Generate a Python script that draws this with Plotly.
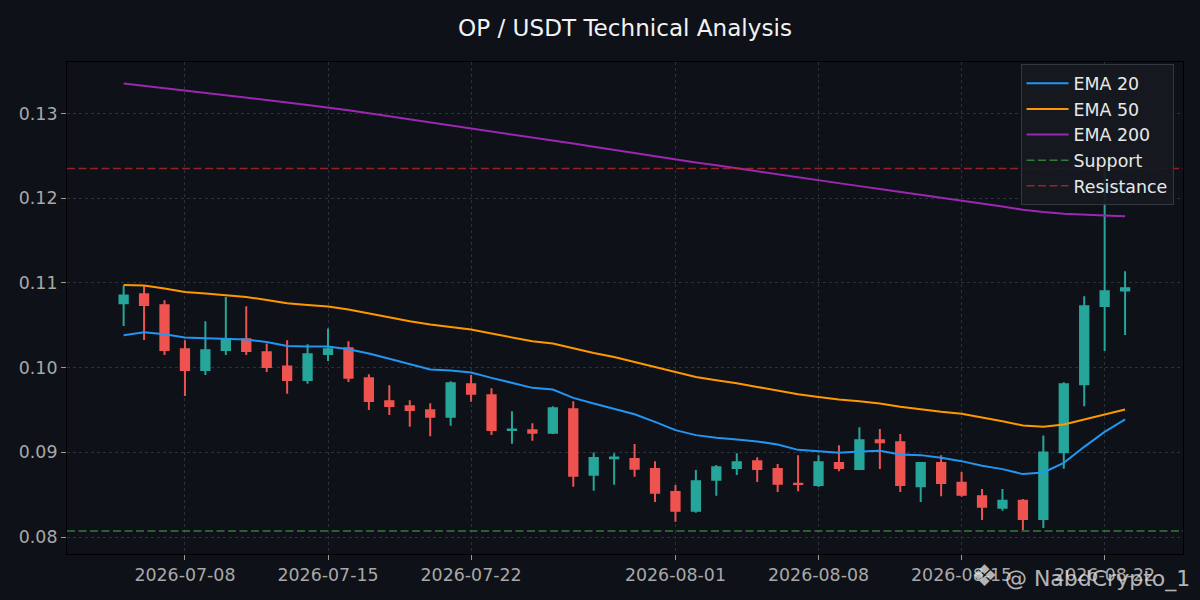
import plotly.graph_objects as go
import pandas as pd

dates = pd.date_range("2026-07-05", "2026-08-23", freq="D").strftime("%Y-%m-%d").tolist()

opens = [0.1076, 0.10866, 0.10736, 0.10217, 0.09973, 0.10209, 0.10335, 0.10182, 0.10013, 0.09855,
         0.10162, 0.10229, 0.09875, 0.09604, 0.09545, 0.09498, 0.09419, 0.09804, 0.09675, 0.09265,
         0.09262, 0.0923, 0.09509, 0.08735, 0.0893, 0.0892, 0.08802, 0.08531, 0.0831, 0.08676,
         0.08814, 0.08896, 0.08802, 0.0863, 0.08613, 0.08873, 0.08802, 0.09144, 0.0912, 0.08601,
         0.08873, 0.0864, 0.08483, 0.08346, 0.08428, 0.08212, 0.09002, 0.09804, 0.10728, 0.10909]
highs = [0.1097, 0.1097, 0.10795, 0.10323, 0.10547, 0.10834, 0.10724, 0.10284, 0.10323, 0.10276,
         0.10461, 0.10311, 0.09922, 0.09792, 0.09616, 0.0958, 0.0984, 0.09914, 0.09757, 0.09486,
         0.09344, 0.09545, 0.09604, 0.08999, 0.0899, 0.09097, 0.08896, 0.08613, 0.0879, 0.08849,
         0.0899, 0.08943, 0.08861, 0.08967, 0.08967, 0.09085, 0.09297, 0.09274, 0.09215, 0.08884,
         0.08967, 0.08767, 0.08566, 0.08566, 0.08448, 0.09199, 0.09828, 0.10842, 0.12348, 0.11137]
lows = [0.10492, 0.10327, 0.1015, 0.09666, 0.09914, 0.1015, 0.1015, 0.09949, 0.0969, 0.09808,
        0.10079, 0.09831, 0.09501, 0.09442, 0.09301, 0.09191, 0.09313, 0.09596, 0.09206, 0.091,
        0.09136, 0.09215, 0.08593, 0.08546, 0.08617, 0.08711, 0.08413, 0.0818, 0.08287, 0.08487,
        0.08731, 0.08649, 0.08531, 0.08542, 0.0859, 0.08778, 0.0879, 0.08802, 0.08531, 0.08413,
        0.08483, 0.08475, 0.082, 0.0831, 0.08083, 0.08106, 0.08805, 0.09545, 0.10197, 0.10386]
closes = [0.1085, 0.10739, 0.10209, 0.09973, 0.10205, 0.10335, 0.10197, 0.10008, 0.09855, 0.10158,
          0.10217, 0.09879, 0.09607, 0.09548, 0.09501, 0.09419, 0.09816, 0.0969, 0.09265, 0.0927,
          0.0923, 0.09521, 0.08723, 0.08932, 0.0894, 0.08805, 0.08522, 0.0831, 0.0866, 0.08825,
          0.08884, 0.08802, 0.08629, 0.08625, 0.08884, 0.08814, 0.09144, 0.0912, 0.08613, 0.08873,
          0.08637, 0.08499, 0.08357, 0.08428, 0.08212, 0.08999, 0.09804, 0.10724, 0.10901, 0.10936]

ema20 = [0.10382, 0.10417, 0.10394, 0.10355, 0.10347, 0.10343, 0.10331, 0.10303, 0.10256, 0.10249,
         0.10249, 0.10217, 0.10166, 0.10105, 0.10040, 0.09978, 0.09966, 0.09942, 0.09879, 0.09820,
         0.09761, 0.09742, 0.09643, 0.09577, 0.09518, 0.09450, 0.09360, 0.09262, 0.09203, 0.09171,
         0.09152, 0.09129, 0.09093, 0.09029, 0.09014, 0.08994, 0.09011, 0.09018, 0.08975, 0.08967,
         0.08937, 0.08896, 0.08841, 0.08802, 0.08743, 0.08763, 0.08876, 0.09065, 0.09242, 0.09388]
ema50 = [0.10975, 0.10968, 0.10933, 0.10893, 0.10874, 0.10857, 0.10834, 0.10798, 0.10759, 0.10739,
         0.10720, 0.10685, 0.10638, 0.10597, 0.10547, 0.10508, 0.10480, 0.10449, 0.10402, 0.10355,
         0.10311, 0.10284, 0.10225, 0.10173, 0.10126, 0.10067, 0.10008, 0.09946, 0.09890, 0.09851,
         0.09816, 0.09772, 0.09725, 0.09686, 0.09654, 0.09624, 0.09604, 0.09577, 0.09537, 0.09506,
         0.09478, 0.09454, 0.09415, 0.09368, 0.09317, 0.09301, 0.09329, 0.09388, 0.09447, 0.09506]
ema200 = [0.13354, 0.13327, 0.13300, 0.13271, 0.13243, 0.13215, 0.13186, 0.13158, 0.13130, 0.13100,
          0.13071, 0.13037, 0.13001, 0.12966, 0.12930, 0.12895, 0.12860, 0.12823, 0.12788, 0.12752,
          0.12717, 0.12682, 0.12644, 0.12606, 0.12568, 0.12531, 0.12493, 0.12458, 0.12422, 0.12387,
          0.12351, 0.12316, 0.12281, 0.12245, 0.12210, 0.12175, 0.12142, 0.12108, 0.12075, 0.12042,
          0.12009, 0.11974, 0.11939, 0.11901, 0.11864, 0.11836, 0.11817, 0.11803, 0.11794, 0.11785]

support = 0.08071
resistance = 0.12351

x_tickvals = ["2026-07-08", "2026-07-15", "2026-07-22", "2026-08-01", "2026-08-08", "2026-08-15", "2026-08-22"]
y_tickvals = [0.08, 0.09, 0.10, 0.11, 0.12, 0.13]
y_ticktext = ["0.08", "0.09", "0.10", "0.11", "0.12", "0.13"]

BG = "#0e1117"
FONT = "DejaVu Sans"

fig = go.Figure()
fig.add_trace(go.Candlestick(
    x=dates, open=opens, high=highs, low=lows, close=closes,
    increasing=dict(line=dict(color="#26a69a", width=2), fillcolor="#26a69a"),
    decreasing=dict(line=dict(color="#ef5350", width=2), fillcolor="#ef5350"),
    showlegend=False, hoverinfo="skip"))
fig.add_trace(go.Scatter(x=dates, y=ema20, mode="lines", name="EMA 20",
                         line=dict(color="#2196f3", width=2)))
fig.add_trace(go.Scatter(x=dates, y=ema50, mode="lines", name="EMA 50",
                         line=dict(color="#ff9800", width=2)))
fig.add_trace(go.Scatter(x=dates, y=ema200, mode="lines", name="EMA 200",
                         line=dict(color="#9c27b0", width=2)))
xr = ["2026-07-02 05:30", "2026-08-25 20:00"]
fig.add_trace(go.Scatter(x=xr, y=[support, support], mode="lines", name="Support",
                         line=dict(color="rgba(56,142,60,0.85)", width=1.5, dash="8px,3.5px")))
fig.add_trace(go.Scatter(x=xr, y=[resistance, resistance], mode="lines", name="Resistance",
                         line=dict(color="rgba(198,40,40,0.75)", width=1.5, dash="8px,3.5px")))

axis_common = dict(
    showgrid=True, gridcolor="#2c303a", griddash="dot", gridwidth=1,
    showline=True, linecolor="#000000", linewidth=1, mirror=True,
    ticks="outside", ticklen=5, tickcolor="#9a9a9a", tickwidth=1,
    tickfont=dict(color="#a8a8a8", size=17.4, family=FONT),
    zeroline=False,
)

fig.update_layout(
    width=1200, height=600,
    paper_bgcolor=BG, plot_bgcolor=BG,
    margin=dict(l=67, r=17, t=62, b=46),
    font=dict(family=FONT, color="#e0e0e0"),
    title=dict(text="OP / USDT Technical Analysis", x=0.5, xanchor="center", xref="paper",
               y=1 - 28 / 600, yanchor="middle", yref="container",
               font=dict(size=23.1, color="#f2f2f2", family=FONT)),
    boxgap=0.42,
    xaxis=dict(type="date", range=xr, tickvals=x_tickvals, ticktext=x_tickvals,
               rangeslider=dict(visible=False), **axis_common),
    yaxis=dict(range=[0.0780, 0.13607], tickvals=y_tickvals, ticktext=y_ticktext, **axis_common),
    legend=dict(x=0.9915, y=0.995, xanchor="right", yanchor="top",
                bgcolor="rgba(22,26,33,0.92)", bordercolor="#33373f", borderwidth=1,
                font=dict(size=17.4, color="#e8e8e8", family=FONT),
                tracegroupgap=0, itemwidth=42),
    annotations=[dict(text="<span style='font-size:30px'>❖</span> @ NabdCrypto_1",
                      xref="paper", yref="paper",
                      x=1.0085, y=-0.043, xanchor="right", yanchor="middle", showarrow=False,
                      font=dict(size=22, color="rgba(225,225,225,0.8)", family=FONT))],
)

fig.write_html("out.html", config={"displayModeBar": False},
               post_script="document.body.style.margin='0';document.body.style.background='#0e1117';")
